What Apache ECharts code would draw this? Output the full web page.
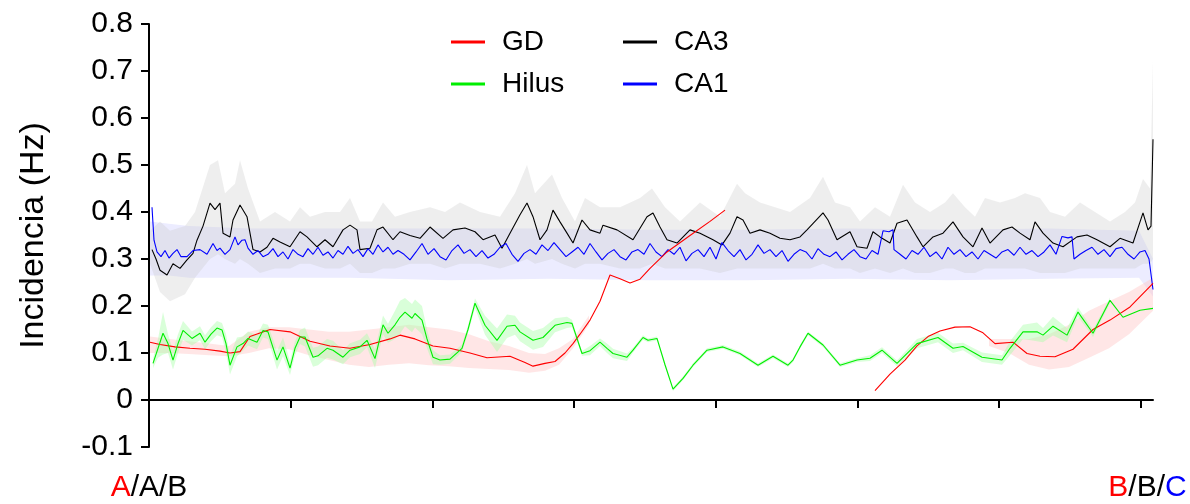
<!DOCTYPE html>
<html><head><meta charset="utf-8">
<script src="https://cdn.jsdelivr.net/npm/echarts@6/dist/echarts.min.js"></script>
<style>html,body{margin:0;padding:0;background:#fff}#c{width:1190px;height:504px}</style>
</head><body><div id="c"></div>
<script>
// ---- data (x = position along the path, y = incidence in Hz) ----
const seriesNames = ['GD', 'Hilus', 'CA3', 'CA1'];
const xTickValues = [0, 141.7, 283.3, 425, 566.7, 708.3, 850, 991.7];
const xLabelValues = [0, 998.5];
const xLabelTexts = [['A','A','B'], ['B','B','C']];
const yMin = -0.1, yMax = 0.8, yStep = 0.1;

const gdLine = [[1,0.123],[11,0.118],[26,0.113],[41,0.11],[56,0.108],[71,0.104],[81,0.10],[91,0.103],[101,0.135],[121,0.15],[141,0.145],[161,0.125],[181,0.115],[201,0.11],[221,0.118],[241,0.13],[251,0.138],[266,0.13],[284,0.115],[301,0.11],[321,0.10],[338,0.09],[361,0.093],[376,0.08],[384,0.072],[396,0.078],[406,0.082],[416,0.10],[424,0.12],[431,0.14],[441,0.17],[451,0.21],[461,0.266],[471,0.258],[481,0.249],[491,0.257],[501,0.28],[518,0.315],[541,0.35],[561,0.38],[576,0.404],[600,null],
[726,0.02],[741,0.055],[756,0.085],[768,0.115],[779,0.135],[791,0.147],[806,0.155],[821,0.156],[834,0.143],[846,0.12],[864,0.123],[878,0.099],[891,0.093],[906,0.092],[924,0.108],[944,0.15],[961,0.17],[981,0.198],[1004,0.248]];
const gdBand = [[1,0.10,0.135],[20,0.10,0.13],[40,0.098,0.125],[60,0.095,0.12],[80,0.093,0.115],[100,0.10,0.145],[120,0.11,0.155],[140,0.108,0.155],[160,0.095,0.15],[180,0.085,0.145],[200,0.075,0.145],[220,0.07,0.15],[240,0.075,0.155],[260,0.078,0.16],[280,0.074,0.155],[300,0.072,0.15],[320,0.068,0.14],[340,0.066,0.125],[360,0.064,0.115],[380,0.058,0.10],[396,0.062,0.098],[410,0.075,0.11],[424,0.11,0.13],[440,0.16,0.18],[450,null,null],
[840,0.115,0.13],[860,0.10,0.13],[880,0.075,0.13],[900,0.065,0.14],[920,0.07,0.16],[940,0.09,0.19],[960,0.11,0.21],[980,0.14,0.23],[1004,0.19,0.26]];

const hilusLine = [[4,0.078],[9,0.11],[14,0.142],[19,0.12],[24,0.085],[29,0.12],[34,0.148],[43,0.131],[51,0.142],[56,0.123],[62,0.14],[68,0.153],[73,0.149],[77,0.12],[81,0.074],[88,0.113],[94,0.12],[99,0.131],[108,0.123],[114,0.148],[119,0.145],[128,0.085],[134,0.113],[141,0.068],[146,0.11],[151,0.134],[156,0.134],[164,0.091],[169,0.094],[178,0.11],[184,0.106],[194,0.091],[201,0.106],[211,0.113],[218,0.127],[226,0.088],[234,0.16],[239,0.142],[246,0.16],[251,0.176],[256,0.187],[263,0.174],[266,0.184],[273,0.17],[278,0.13],[284,0.091],[291,0.085],[301,0.087],[313,0.11],[319,0.15],[326,0.206],[336,0.159],[348,0.127],[358,0.157],[366,0.159],[371,0.145],[384,0.127],[394,0.133],[406,0.159],[418,0.165],[423,0.163],[433,0.099],[441,0.105],[451,0.123],[458,0.11],[464,0.099],[478,0.091],[484,0.106],[494,0.133],[499,0.127],[508,0.131],[516,0.075],[524,0.023],[534,0.046],[544,0.074],[558,0.106],[574,0.113],[591,0.099],[609,0.074],[624,0.093],[639,0.074],[644,0.085],[651,0.113],[659,0.142],[674,0.117],[691,0.074],[708,0.085],[721,0.089],[733,0.106],[748,0.078],[768,0.12],[789,0.133],[804,0.11],[814,0.114],[833,0.091],[853,0.085],[861,0.11],[874,0.145],[888,0.145],[894,0.138],[904,0.157],[918,0.138],[929,0.187],[944,0.142],[961,0.212],[974,0.176],[991,0.191],[1004,0.195]];
const hilusSpread = [0.01,0.02,0.045,0.02,0.02,0.02,0.02,0.015,0.015,0.015,0.015,0.015,0.015,0.02,0.02,0.02,0.015,0.015,0.015,0.015,0.015,0.02,0.02,0.015,0.015,0.015,0.02,0.02,0.02,0.02,0.02,0.015,0.015,0.015,0.015,0.02,0.02,0.02,0.03,0.035,0.03,0.03,0.03,0.03,0.02,0.015,0.01,0.01,0.008,0.008,0.01,0.02,0.025,0.025,0.02,0.02,0.02,0.02,0.015,0.012,0.008,0.005,0.01,0.008,0.01,0.01,0.008,0.005,0.005,0.004,0.004,0.004,0.004,0.004,0.004,0.004,0.004,0.004,0.004,0.004,0.004,0.004,0.004,0.004,0.004,0.004,0.004,0.006,0.006,0.006,0.01,0.01,0.01,0.008,0.01,0.01,0.015,0.015,0.02,0.015,0.02,0.015,0.01,0.008,0.006];

const ca3Line = [[3,0.32],[7,0.30],[11,0.276],[18,0.266],[24,0.29],[31,0.28],[38,0.298],[44,0.312],[48,0.34],[54,0.37],[61,0.419],[66,0.405],[71,0.419],[74,0.355],[81,0.347],[84,0.383],[91,0.415],[98,0.39],[104,0.32],[111,0.315],[118,0.325],[124,0.344],[131,0.336],[141,0.326],[151,0.358],[158,0.347],[168,0.326],[176,0.341],[184,0.326],[194,0.362],[201,0.372],[208,0.362],[211,0.32],[221,0.323],[228,0.362],[234,0.368],[244,0.341],[251,0.358],[261,0.35],[271,0.344],[281,0.368],[294,0.344],[304,0.362],[316,0.366],[326,0.358],[334,0.341],[346,0.351],[353,0.323],[361,0.355],[371,0.394],[378,0.419],[384,0.39],[391,0.341],[398,0.362],[404,0.404],[411,0.379],[418,0.355],[424,0.334],[433,0.383],[441,0.362],[451,0.355],[454,0.372],[468,0.362],[484,0.341],[498,0.39],[504,0.398],[511,0.368],[518,0.341],[528,0.334],[541,0.362],[551,0.355],[564,0.341],[573,0.33],[581,0.355],[588,0.39],[594,0.383],[601,0.355],[611,0.362],[621,0.355],[631,0.344],[641,0.341],[651,0.347],[658,0.362],[666,0.38],[674,0.398],[679,0.383],[688,0.341],[701,0.358],[708,0.326],[718,0.323],[724,0.358],[731,0.347],[741,0.334],[748,0.376],[758,0.383],[768,0.347],[774,0.326],[784,0.347],[794,0.355],[804,0.379],[814,0.347],[824,0.326],[833,0.366],[841,0.334],[854,0.362],[863,0.368],[871,0.355],[881,0.341],[886,0.379],[894,0.355],[904,0.334],[914,0.326],[928,0.347],[938,0.351],[948,0.341],[961,0.326],[971,0.344],[984,0.334],[994,0.398],[999,0.362],[1002,0.37],[1004,0.555]];
const ca3Band = [[1,0.29,0.36],[11,0.23,0.38],[21,0.21,0.36],[36,0.225,0.37],[46,0.26,0.40],[61,0.30,0.50],[69,0.31,0.51],[76,0.30,0.44],[86,0.29,0.46],[91,0.30,0.51],[99,0.29,0.45],[111,0.27,0.38],[126,0.28,0.40],[141,0.28,0.38],[151,0.29,0.41],[161,0.29,0.39],[176,0.28,0.40],[191,0.28,0.40],[201,0.29,0.43],[211,0.27,0.38],[223,0.27,0.38],[234,0.28,0.42],[246,0.28,0.39],[261,0.29,0.40],[281,0.29,0.41],[296,0.28,0.40],[311,0.29,0.42],[331,0.29,0.40],[351,0.28,0.39],[366,0.29,0.44],[378,0.30,0.50],[386,0.29,0.44],[403,0.30,0.48],[413,0.29,0.43],[426,0.28,0.38],[436,0.29,0.43],[451,0.29,0.41],[471,0.28,0.41],[491,0.28,0.43],[503,0.29,0.45],[516,0.28,0.41],[531,0.28,0.38],[551,0.28,0.42],[571,0.27,0.39],[588,0.28,0.46],[596,0.28,0.44],[611,0.28,0.42],[626,0.28,0.41],[641,0.28,0.40],[661,0.28,0.43],[674,0.29,0.475],[686,0.28,0.42],[701,0.28,0.41],[711,0.27,0.38],[726,0.28,0.41],[741,0.27,0.39],[754,0.28,0.458],[766,0.27,0.42],[781,0.27,0.40],[796,0.28,0.42],[804,0.28,0.44],[816,0.27,0.41],[826,0.27,0.39],[836,0.28,0.43],[851,0.28,0.42],[866,0.28,0.43],[876,0.28,0.44],[891,0.27,0.43],[901,0.27,0.40],[916,0.27,0.39],[931,0.28,0.42],[946,0.28,0.40],[961,0.28,0.38],[976,0.28,0.40],[986,0.28,0.42],[994,0.29,0.47],[1001,0.29,0.45],[1004,0.30,0.72]];

const ca1Line = [[3,0.41],[5,0.34],[8,0.315],[12,0.305],[16,0.318],[20,0.302],[24,0.312],[28,0.32],[32,0.305],[38,0.305],[44,0.318],[51,0.32],[58,0.31],[64,0.333],[68,0.318],[71,0.323],[76,0.31],[81,0.32],[86,0.347],[89,0.33],[93,0.34],[96,0.341],[99,0.323],[104,0.31],[109,0.318],[114,0.305],[119,0.31],[124,0.322],[129,0.305],[134,0.315],[139,0.30],[144,0.32],[149,0.31],[154,0.305],[159,0.322],[164,0.31],[169,0.325],[174,0.308],[179,0.315],[184,0.302],[189,0.318],[194,0.31],[199,0.327],[204,0.312],[209,0.32],[214,0.305],[219,0.322],[224,0.31],[229,0.33],[234,0.315],[239,0.325],[244,0.31],[249,0.318],
[255,0.31],[261,0.298],[267,0.315],[273,0.333],[279,0.31],[285,0.322],[291,0.305],[297,0.298],[303,0.318],[309,0.33],[315,0.312],[321,0.32],[327,0.305],[333,0.318],[339,0.302],[345,0.31],[351,0.325],[357,0.333],[363,0.31],[369,0.295],[375,0.312],[381,0.32],[387,0.31],[393,0.33],[399,0.318],[405,0.335],[411,0.32],[417,0.305],[423,0.315],[429,0.325],[435,0.31],[441,0.333],[447,0.315],[453,0.298],[459,0.312],[465,0.32],[471,0.305],[477,0.298],[483,0.315],[489,0.32],[495,0.31],[501,0.333],[507,0.315],[513,0.305],[519,0.32],[525,0.31],[531,0.325],[537,0.296],[543,0.312],[549,0.32],[555,0.305],[561,0.325],[567,0.30],[573,0.335],[579,0.318],[585,0.305],[591,0.32],[597,0.298],[603,0.31],[609,0.33],[615,0.312],[621,0.32],[627,0.305],[633,0.318],[639,0.295],[645,0.31],[651,0.32],
[657,0.315],[663,0.30],[669,0.322],[675,0.31],[681,0.305],[687,0.315],[693,0.298],[699,0.31],[705,0.32],[711,0.305],[717,0.30],[723,0.318],[729,0.31],[734,0.36],[740,0.358],[744,0.362],[745,0.32],[751,0.31],[757,0.30],[763,0.318],[769,0.31],[775,0.325],[781,0.305],[787,0.315],[793,0.30],[799,0.325],[805,0.31],[811,0.32],[817,0.305],[823,0.315],[829,0.30],[835,0.318],[841,0.31],[847,0.302],[853,0.315],[859,0.32],[865,0.308],[871,0.325],[877,0.31],[883,0.318],[889,0.305],[895,0.315],[901,0.33],[907,0.31],[913,0.348],[919,0.345],[923,0.347],[925,0.30],[931,0.31],[937,0.318],[943,0.325],[949,0.31],[955,0.32],[961,0.305],[967,0.322],[973,0.325],[979,0.31],[985,0.30],[991,0.315],[996,0.318],[1000,0.30],[1004,0.235]];
const ca1Band = [[1,0.265,0.38],[20,0.265,0.375],[40,0.26,0.37],[100,0.26,0.365],[200,0.26,0.365],[300,0.255,0.365],[400,0.258,0.365],[500,0.255,0.362],[600,0.255,0.362],[700,0.258,0.365],[800,0.255,0.362],[900,0.258,0.365],[990,0.26,0.36],[1004,0.22,0.30]];

// ---- chart ----
const FONT = '"Liberation Sans", Arial, sans-serif';
const colors = {GD:'#ff0000', Hilus:'#00ee00', CA3:'#000000', CA1:'#0000ff'};

function bandSeries(name, rows, fill, z) {
  return {
    type: 'custom', name: name, silent: true, z: z, animation: false,
    data: rows.map(r => [r[0], r[1], r[2]]),
    encode: {x: 0, y: [1, 2]},
    renderItem: function (params, api) {
      if (params.dataIndex !== 0) return null;
      const segs = []; let cur = [];
      rows.forEach(r => {
        if (r[1] == null || r[2] == null) { if (cur.length) segs.push(cur); cur = []; }
        else cur.push(r);
      });
      if (cur.length) segs.push(cur);
      const children = segs.filter(s => s.length > 1).map(s => {
        const top = s.map(r => api.coord([r[0], r[2]]));
        const bot = s.slice().reverse().map(r => api.coord([r[0], r[1]]));
        return {type: 'polygon', shape: {points: top.concat(bot)}, style: {fill: fill, stroke: null}};
      });
      return {type: 'group', children: children};
    }
  };
}
function lineSeries(name, data, z) {
  return {
    type: 'line', name: name, data: data, showSymbol: false, symbol: 'none',
    connectNulls: false, animation: false, z: z, color: colors[name],
    lineStyle: {width: 1.1, color: colors[name]}
  };
}

const hilusBand = hilusLine.map((p, i) => [p[0], p[1] - hilusSpread[i], p[1] + hilusSpread[i]]);

const chart = echarts.init(document.getElementById('c'), null, {renderer: 'canvas'});
chart.setOption({
  backgroundColor: '#ffffff',
  animation: false,
  grid: {left: 149, right: 37, top: 24, bottom: 57},
  legend: [
    {data: ['GD', 'Hilus'], orient: 'vertical', left: 451, top: 28, padding: 0,
     icon: 'rect', itemWidth: 34, itemHeight: 3, itemGap: 14,
     textStyle: {fontFamily: FONT, fontSize: 28, color: '#000', padding: [0, 0, 0, 12]}},
    {data: ['CA3', 'CA1'], orient: 'vertical', left: 623, top: 28, padding: 0,
     icon: 'rect', itemWidth: 34, itemHeight: 3, itemGap: 14,
     textStyle: {fontFamily: FONT, fontSize: 28, color: '#000', padding: [0, 0, 0, 12]}}
  ],
  xAxis: {
    type: 'value', min: 0, max: 1004,
    axisLine: {show: true, lineStyle: {color: '#000', width: 2}},
    axisTick: {show: true, customValues: xTickValues, length: 8, lineStyle: {color: '#000', width: 2}},
    splitLine: {show: false},
    axisLabel: {
      customValues: xLabelValues, margin: 26, fontFamily: FONT, fontSize: 29,
      formatter: function (v) {
        const i = xLabelValues.indexOf(v);
        if (i < 0) return '';
        const t = xLabelTexts[i];
        return i === 0 ? '{r|' + t[0] + '}{k|/' + t[1] + '/' + t[2] + '}'
                       : '{r|' + t[0] + '}{k|/' + t[1] + '/}{b|' + t[2] + '}';
      },
      rich: {
        r: {color: '#ff0000', fontFamily: FONT, fontSize: 30},
        k: {color: '#000000', fontFamily: FONT, fontSize: 30},
        b: {color: '#0000ff', fontFamily: FONT, fontSize: 30}
      }
    }
  },
  yAxis: {
    type: 'value', min: yMin, max: yMax, interval: yStep,
    name: 'Incidencia (Hz)', nameLocation: 'middle', nameRotate: 90, nameGap: 98,
    nameTextStyle: {fontFamily: FONT, fontSize: 34, color: '#000'},
    axisLine: {show: true, lineStyle: {color: '#000', width: 2}},
    axisTick: {show: true, length: 8, lineStyle: {color: '#000', width: 2}},
    splitLine: {show: false},
    axisLabel: {fontFamily: FONT, fontSize: 30, color: '#000', margin: 16,
      formatter: v => String(Math.round(v * 10) / 10)}
  },
  series: [
    bandSeries('CA1band', ca1Band, '#ececff', 1),
    bandSeries('CA3band', ca3Band, 'rgba(200,200,200,0.3)', 2),
    bandSeries('GDband', gdBand, 'rgba(255,200,200,0.45)', 3),
    bandSeries('Hilusband', hilusBand, 'rgba(170,255,170,0.45)', 4),
    lineSeries('CA3', ca3Line, 10),
    lineSeries('CA1', ca1Line, 11),
    lineSeries('GD', gdLine, 12),
    lineSeries('Hilus', hilusLine, 13)
  ]
});
</script></body></html>
